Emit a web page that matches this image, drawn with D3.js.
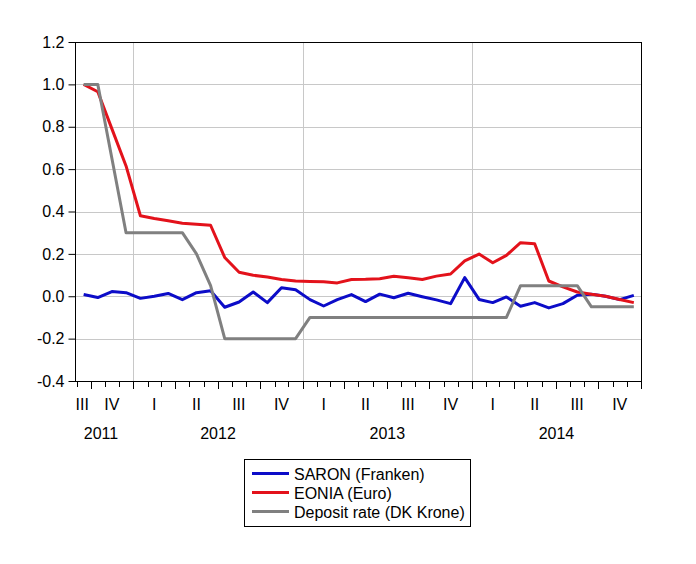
<!DOCTYPE html>
<html><head><meta charset="utf-8">
<script src="https://cdnjs.cloudflare.com/ajax/libs/d3/7.8.5/d3.min.js"></script>
<style>
html,body{margin:0;padding:0;background:#fff;}
svg{display:block;font-family:"Liberation Sans",Arial,sans-serif;}
</style></head>
<body>
<svg id="chart" width="696" height="564"></svg>
<script>
// ---- data (monthly, Sep 2011 .. Dec 2014) ----
const startMonth = "2011-09";
const saron = [0.008,-0.006,0.022,0.017,-0.010,0.000,0.013,-0.016,0.017,0.026,
  -0.052,-0.027,0.020,-0.030,0.040,0.031,-0.016,-0.046,-0.016,0.008,
  -0.025,0.010,-0.007,0.014,-0.002,-0.017,-0.035,0.088,-0.015,-0.030,
  -0.003,-0.047,-0.030,-0.055,-0.035,0.005,0.010,0.000,-0.016,0.004];
const eonia = [1.000,0.965,0.790,0.615,0.380,0.367,0.356,0.345,0.340,0.335,
  0.183,0.113,0.099,0.091,0.079,0.072,0.070,0.068,0.063,0.079,
  0.080,0.083,0.094,0.087,0.079,0.095,0.105,0.167,0.199,0.158,
  0.193,0.253,0.248,0.072,0.044,0.020,0.009,0.000,-0.015,-0.030];
const depositDK = [1.00,1.00,0.65,0.30,0.30,0.30,0.30,0.30,0.20,0.05,
  -0.20,-0.20,-0.20,-0.20,-0.20,-0.20,-0.10,-0.10,-0.10,-0.10,
  -0.10,-0.10,-0.10,-0.10,-0.10,-0.10,-0.10,-0.10,-0.10,-0.10,
  -0.10,0.05,0.05,0.05,0.05,0.05,-0.05,-0.05,-0.05,-0.05];
const seriesNames = ["SARON (Franken)","EONIA (Euro)","Deposit rate (DK Krone)"];
const seriesColors = ["#0c0cc8","#e3121b","#808080"];
const yTicks = [-0.4,-0.2,0.0,0.2,0.4,0.6,0.8,1.0,1.2];
const quarterLabels = ["I","II","III","IV"];

// ---- layout ----
const svg = d3.select("#chart");
const pL = 75, pR = 641, pT = 42, pB = 381;
const parse = d3.timeParse("%Y-%m");
const t0 = parse(startMonth);
const tEnd = d3.timeMonth.offset(t0, saron.length);
const x = d3.scaleTime().domain([t0, tEnd]).range([76.7, pR]);
const y = d3.scaleLinear().domain([-0.4, 1.2]).range([pB, pT]);
const months = d3.range(saron.length).map(i => d3.timeMonth.offset(t0, i));
const xMid = d => (x(d) + x(d3.timeMonth.offset(d, 1))) / 2;

// gridlines
const g = svg.append("g");
g.selectAll(".hg").data(yTicks.slice(1, -1)).join("line")
  .attr("x1", pL).attr("x2", pR)
  .attr("y1", d => Math.round(y(d)) + 0.5).attr("y2", d => Math.round(y(d)) + 0.5)
  .attr("stroke", "#c8c8c8").attr("stroke-width", 1);
const years = d3.timeYear.range(d3.timeYear.ceil(t0), tEnd);
g.selectAll(".vg").data(years).join("line")
  .attr("x1", d => Math.round(x(d)) + 0.5).attr("x2", d => Math.round(x(d)) + 0.5)
  .attr("y1", pT).attr("y2", pB)
  .attr("stroke", "#c8c8c8").attr("stroke-width", 1);

// series lines
const series = [saron, eonia, depositDK];
const line = d3.line().x((d, i) => xMid(months[i])).y(d => y(d));
series.forEach((s, k) => {
  svg.append("path").datum(s).attr("d", line)
    .attr("fill", "none").attr("stroke", seriesColors[k])
    .attr("stroke-width", 3).attr("stroke-linejoin", "round");
});

// frame
svg.append("rect").attr("x", pL + 0.5).attr("y", pT + 0.5)
  .attr("width", pR - pL).attr("height", pB - pT)
  .attr("fill", "none").attr("stroke", "#000").attr("stroke-width", 1);

// y axis
const fmt = d3.format(".1f");
const yAxis = d3.axisLeft(y).tickValues(yTicks)
  .tickFormat(d => fmt(d).replace("\u2212", "-")).tickSize(7).tickSizeOuter(0);
const ya = svg.append("g").attr("transform", `translate(${pL + 0.5},0)`).call(yAxis);
ya.select(".domain").remove();
ya.selectAll(".tick line").attr("stroke", "#000");
ya.selectAll(".tick text").attr("font-size", 16).attr("fill", "#000").attr("x", -11)
  .attr("font-family", "Liberation Sans, Arial, sans-serif");

// x axis ticks (month boundaries; quarter boundaries longer)
const monthBounds = d3.timeMonth.range(t0, d3.timeMonth.offset(tEnd, 1));
const xa = svg.append("g");
xa.selectAll("line").data(monthBounds).join("line")
  .attr("x1", d => Math.round(x(d)) + 0.5).attr("x2", d => Math.round(x(d)) + 0.5)
  .attr("y1", pB).attr("y2", d => pB + (d.getMonth() % 3 === 0 ? 8 : 6))
  .attr("stroke", "#000").attr("stroke-width", 1);

// quarter labels
const qStarts = d3.timeMonth.every(3).range(d3.timeMonth.offset(t0, -2), tEnd);
qStarts.forEach(q => {
  const qEnd = d3.timeMonth.offset(q, 3);
  const a = q < t0 ? t0 : q;
  const b = qEnd > tEnd ? tEnd : qEnd;
  const partial = q < t0;
  const label = quarterLabels[Math.floor(q.getMonth() / 3)];
  svg.append("text")
    .attr("x", partial ? pL + 0.5 : (x(a) + x(b)) / 2)
    .attr("y", 410).attr("text-anchor", partial ? "start" : "middle")
    .attr("font-size", 16).attr("fill", "#000").text(label);
});

// year labels
const yearStarts = d3.timeYear.range(d3.timeYear.floor(t0), tEnd);
yearStarts.forEach(yr => {
  const a = yr < t0 ? t0 : yr;
  const b = d3.timeYear.offset(yr, 1) > tEnd ? tEnd : d3.timeYear.offset(yr, 1);
  const partial = yr < t0;
  svg.append("text")
    .attr("x", (x(a) + x(b)) / 2 - (partial ? 4 : 0))
    .attr("y", 439).attr("text-anchor", "middle")
    .attr("font-size", 16).attr("fill", "#000").text(yr.getFullYear());
});

// legend
const lg = svg.append("g");
lg.append("rect").attr("x", 244.5).attr("y", 459.5).attr("width", 226).attr("height", 67)
  .attr("fill", "#fff").attr("stroke", "#000").attr("stroke-width", 1);
seriesNames.forEach((name, k) => {
  const cy = 473.5 + k * 19;
  lg.append("line").attr("x1", 252).attr("x2", 289).attr("y1", cy).attr("y2", cy)
    .attr("stroke", seriesColors[k]).attr("stroke-width", 3);
  lg.append("text").attr("x", 294).attr("y", cy + 6.5)
    .attr("font-size", 16).attr("fill", "#000").text(name);
});
</script>
</body></html>
